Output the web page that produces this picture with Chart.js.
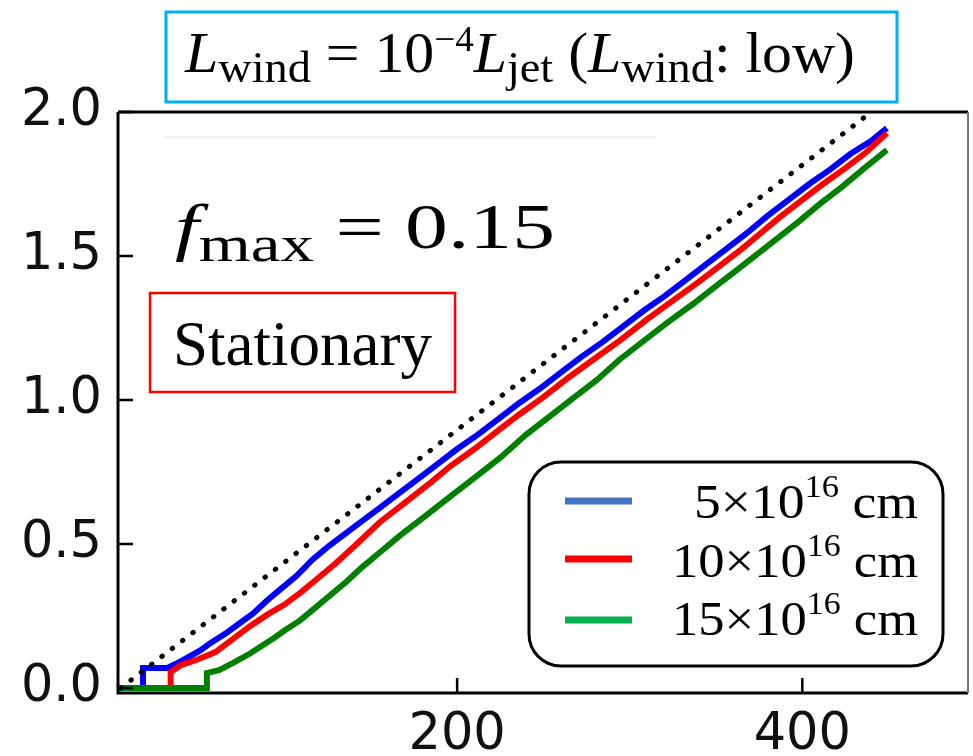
<!DOCTYPE html>
<html>
<head>
<meta charset="utf-8">
<script src="https://cdn.jsdelivr.net/npm/chart.js@4.4.0/dist/chart.umd.min.js"></script>
<style>
  html, body { margin: 0; padding: 0; background: #fff; }
  canvas { display: block; }
</style>
</head>
<body>
<canvas id="myChart" width="973" height="756"></canvas>
<script>
// series (x, cumulative value)
const blueX = [3.5, 18, 18, 32, 39, 45, 51, 57, 66, 74, 82, 90, 97, 107, 116, 126, 136, 146, 155, 166, 177, 188, 200, 212, 224, 236, 248, 260, 272, 284, 296, 308, 320, 332, 344, 356, 368, 380, 392, 404, 416, 428, 440, 449];
const blueY = [0, 0, 0.07, 0.07, 0.09, 0.11, 0.13, 0.156, 0.19, 0.225, 0.26, 0.305, 0.34, 0.39, 0.445, 0.495, 0.54, 0.585, 0.625, 0.675, 0.725, 0.775, 0.83, 0.88, 0.935, 0.99, 1.04, 1.095, 1.15, 1.20, 1.255, 1.31, 1.36, 1.415, 1.47, 1.525, 1.58, 1.64, 1.695, 1.75, 1.80, 1.855, 1.90, 1.944];

const redX = [3.5, 34, 34, 40, 50, 60, 70, 80, 90, 100, 110, 120, 130, 140, 155, 170, 185, 196, 210, 225, 236, 250, 265, 280, 295, 310, 325, 340, 352, 365, 376, 387, 400, 412, 425, 437, 449];
const redY = [0, 0, 0.055, 0.08, 0.10, 0.125, 0.17, 0.215, 0.255, 0.29, 0.335, 0.385, 0.435, 0.49, 0.575, 0.645, 0.715, 0.77, 0.83, 0.90, 0.95, 1.01, 1.08, 1.145, 1.21, 1.28, 1.345, 1.41, 1.465, 1.525, 1.58, 1.635, 1.695, 1.75, 1.805, 1.86, 1.927];

const greenX = [3.5, 55, 55, 62, 70, 80, 93, 100, 109, 116, 128, 136, 145, 155, 167, 180, 195, 210, 225, 240, 254, 268, 281, 294, 308, 322, 337, 352, 365, 380, 397, 410, 423, 436, 449];
const greenY = [0, 0, 0.052, 0.062, 0.087, 0.12, 0.17, 0.20, 0.235, 0.27, 0.33, 0.37, 0.42, 0.47, 0.53, 0.59, 0.66, 0.73, 0.80, 0.88, 0.945, 1.01, 1.07, 1.14, 1.205, 1.27, 1.335, 1.405, 1.465, 1.535, 1.615, 1.68, 1.74, 1.805, 1.868];

const dottedX = [5, 440];
const dottedY = [0, 2.0];

const xTicks = [200, 400];
const yTicks = [0, 0.5, 1.0, 1.5, 2.0];
const legendLabels = ['5×10', '10×10', '15×10'];

const pts = (xs, ys) => xs.map((x, i) => ({x: x, y: ys[i]}));

const serif = '"Liberation Serif", "Times New Roman", serif';

// draw a run of text pieces (sub/superscripts), squeezed to a target width
function richText(ctx, parts, x, base, width, align) {
  ctx.save();
  let total = 0;
  parts.forEach(p => { ctx.font = p.font; p.w = ctx.measureText(p.t).width; total += p.w; });
  let sx = width ? width / total : 1;
  let x0 = align === 'right' ? x - total * sx : x;
  ctx.translate(x0, base);
  ctx.scale(sx, 1);
  ctx.fillStyle = '#000';
  ctx.textBaseline = 'alphabetic';
  ctx.textAlign = 'left';
  let cx = 0;
  parts.forEach(p => { ctx.font = p.font; ctx.fillText(p.t, cx, p.dy || 0); cx += p.w; });
  ctx.restore();
  return total;
}

const decor = {
  id: 'decor',
  afterDraw(chart) {
    const ctx = chart.ctx;
    const a = chart.chartArea;
    const xs = chart.scales.x, ys = chart.scales.y;
    ctx.save();

    // frame
    ctx.strokeStyle = '#000';
    ctx.lineWidth = 3;
    ctx.beginPath();
    ctx.moveTo(a.left, a.top); ctx.lineTo(a.left, a.bottom); ctx.lineTo(a.right, a.bottom);
    ctx.moveTo(a.left, a.top); ctx.lineTo(a.right, a.top);
    ctx.stroke();
    ctx.strokeStyle = '#777';
    ctx.lineWidth = 2;
    ctx.beginPath(); ctx.moveTo(a.right, a.top); ctx.lineTo(a.right, a.bottom); ctx.stroke();

    // inward ticks
    ctx.strokeStyle = '#000';
    ctx.lineWidth = 2.5;
    ctx.beginPath();
    yTicks.forEach(v => { const py = ys.getPixelForValue(v); ctx.moveTo(a.left, py); ctx.lineTo(a.left + 15, py); });
    xTicks.forEach(v => { const px = xs.getPixelForValue(v); ctx.moveTo(px, a.bottom); ctx.lineTo(px, a.bottom - 15); });
    ctx.stroke();

    // faint leftover line near the top
    ctx.strokeStyle = '#f2f2f2';
    ctx.lineWidth = 2;
    ctx.beginPath(); ctx.moveTo(163, 137); ctx.lineTo(655, 137); ctx.stroke();

    // title box
    ctx.fillStyle = '#fff';
    ctx.fillRect(166, 12, 731, 90);
    ctx.strokeStyle = '#00B0F0';
    ctx.lineWidth = 3;
    ctx.strokeRect(166, 12, 731, 90);
    const M = '58px ' + serif, I = 'italic 58px ' + serif, S = '45px ' + serif, P = '36px ' + serif;
    richText(ctx, [
      {t: 'L', font: I}, {t: 'wind', font: S, dy: 10}, {t: ' = 10', font: M},
      {t: '−4', font: P, dy: -21}, {t: 'L', font: I}, {t: 'jet', font: S, dy: 10},
      {t: ' (', font: M}, {t: 'L', font: I}, {t: 'wind', font: S, dy: 10}, {t: ': low)', font: M}
    ], 185, 72, 670);

    // f_max
    richText(ctx, [
      {t: 'f', font: 'italic 64px ' + serif}, {t: 'max', font: '50px ' + serif, dy: 13},
      {t: ' = 0.15', font: '64px ' + serif}
    ], 175, 248, 380);

    // Stationary box
    ctx.strokeStyle = '#FF0000';
    ctx.lineWidth = 2.5;
    ctx.strokeRect(150, 293, 305, 99);
    richText(ctx, [{t: 'Stationary', font: '64px ' + serif}], 173, 365, 259);

    // legend
    ctx.fillStyle = '#fff';
    ctx.strokeStyle = '#000';
    ctx.lineWidth = 3;
    ctx.beginPath();
    ctx.roundRect(529, 462, 414, 204, 32);
    ctx.fill();
    ctx.stroke();
    const legColors = ['#4472C4', '#FF0000', '#00B050'];
    const lineY = [501, 559, 620];
    const baseY = [518, 577, 635];
    legendLabels.forEach((lab, i) => {
      ctx.fillStyle = legColors[i];
      ctx.fillRect(565, lineY[i] - 3.5, 67, 7);
      richText(ctx, [
        {t: lab, font: '48px ' + serif}, {t: '16', font: '31px ' + serif, dy: -21},
        {t: ' cm', font: '48px ' + serif}
      ], 918, baseY[i], i === 0 ? 224 : 246, 'right');
    });
    ctx.restore();
  }
};

const data = {
  datasets: [
    {label: 'dotted', data: pts(dottedX, dottedY), borderColor: '#000', borderWidth: 5,
     borderDash: [0.5, 12.5], borderCapStyle: 'round'},
    {label: '15', data: pts(greenX, greenY), borderColor: '#008000', borderWidth: 6},
    {label: '10', data: pts(redX, redY), borderColor: '#FF0000', borderWidth: 6},
    {label: '5', data: pts(blueX, blueY), borderColor: '#0000FF', borderWidth: 6}
  ]
};
data.datasets.forEach(d => { d.showLine = true; d.pointRadius = 0; d.tension = 0; d.fill = false; });

const config = {
  type: 'scatter',
  data,
  options: {
    responsive: false,
    animation: false,
    devicePixelRatio: 1,
    layout: {padding: {top: 112, right: 5, left: 0, bottom: 0}},
    plugins: {legend: {display: false}, tooltip: {enabled: false}},
    scales: {
      x: {
        type: 'linear', min: 3.5, max: 496,
        grid: {display: false, drawTicks: false}, border: {display: false},
        afterBuildTicks: s => { s.ticks = xTicks.map(v => ({value: v})); },
        afterFit: s => { s.height = 63; },
        ticks: {color: '#111', padding: 12, font: {family: '"DejaVu Sans"', size: 51}, callback: v => String(v)}
      },
      y: {
        type: 'linear', min: -0.017, max: 2.0,
        grid: {display: false, drawTicks: false}, border: {display: false},
        afterBuildTicks: s => { s.ticks = yTicks.map(v => ({value: v})); },
        afterFit: s => { s.width = 118; },
        ticks: {color: '#111', padding: 16, font: {family: '"DejaVu Sans"', size: 51}, callback: v => v.toFixed(1)}
      }
    }
  },
  plugins: [decor]
};

let chart = new Chart(document.getElementById('myChart'), config);
</script>
</body>
</html>
